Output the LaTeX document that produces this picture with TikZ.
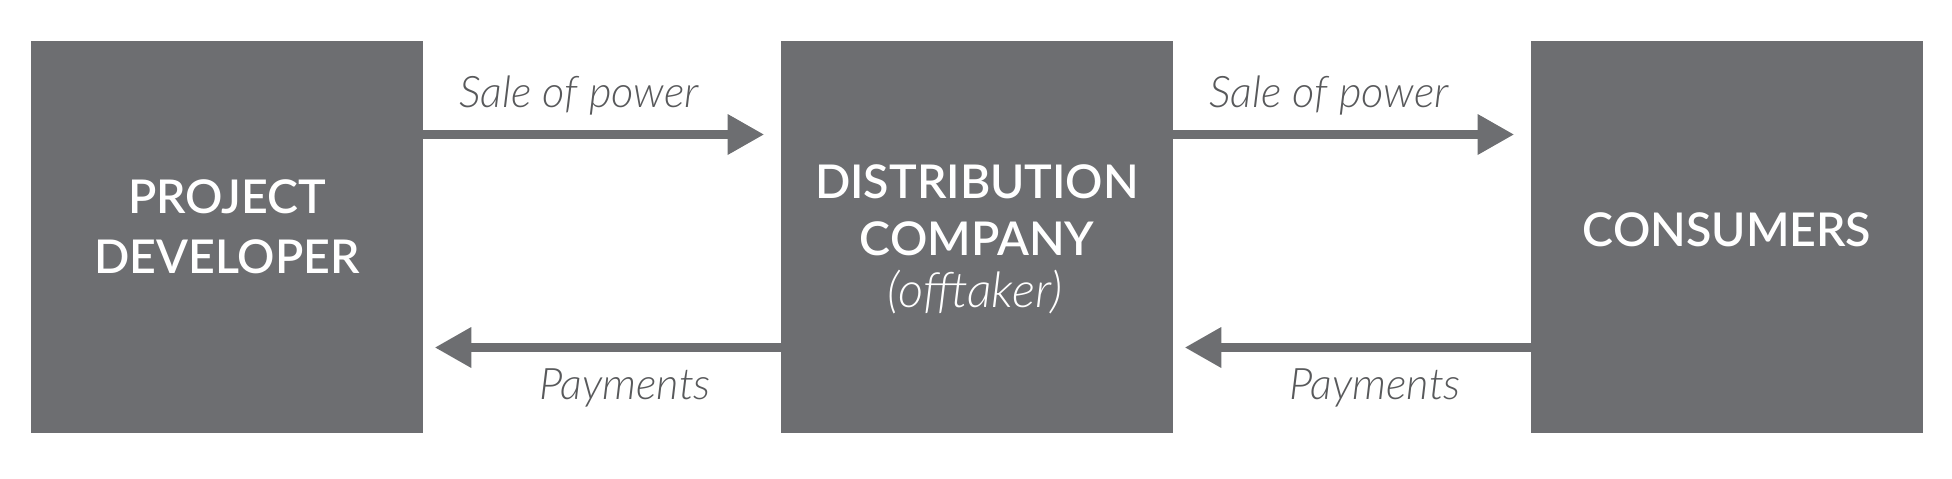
\documentclass[tikz,border=0pt]{standalone}
\usepackage{fontspec}
\setmainfont{Carlito}
\newfontfamily\semifont{Lato Semibold}
\newfontfamily\lightfont{Lato Light Italic}
\usetikzlibrary{arrows.meta}
\definecolor{boxgray}{HTML}{6D6E71}
\definecolor{labelgray}{HTML}{58595B}
\begin{document}
\begin{tikzpicture}[x=1pt,y=-1pt,
  party/.style={fill=boxgray,draw=none,minimum width=392pt,minimum height=392pt,inner sep=0pt,outer sep=0pt},
  boxtext/.style={text=white,font=\semifont\fontsize{46.5}{55}\selectfont,inner sep=0pt,anchor=base},
  subtext/.style={text=white,font=\lightfont\fontsize{49}{55}\selectfont,inner sep=0pt,anchor=base},
  flowlabel/.style={text=labelgray,font=\lightfont\fontsize{43.5}{50}\selectfont,inner sep=0pt,anchor=base},
  flow/.style={draw=boxgray,line width=8.5pt,-{Triangle[length=36pt,width=41pt,line width=0pt]}}]
\useasboundingbox (0,0) rectangle (1952,479);
\node[party] (pd) at (227,237) {};
\node[party] (dc) at (977,237) {};
\node[party] (cs) at (1727,237) {};
\coordinate (toprow) at (0,134.5);
\coordinate (botrow) at (0,347.5);
\node[boxtext] (pd1) at (227,213.3) {PROJECT};
\node[boxtext] (pd2) at (227,273.3) {DEVELOPER};
\node[boxtext] (dc1) at (977,198.3) {DISTRIBUTION};
\node[boxtext] (dc2) at (977,255) {COMPANY};
\node[subtext] (dc3) at (975,307) {(of{}ftaker)};
\node[boxtext] (cs1) at (1727,246.7) {CONSUMERS};
\draw[flow,shorten >=17.4pt] (pd.east |- toprow) -- (dc.west |- toprow);
\draw[flow,shorten >=12.3pt] (dc.west |- botrow) -- (pd.east |- botrow);
\draw[flow,shorten >=17.4pt] (dc.east |- toprow) -- (cs.west |- toprow);
\draw[flow,shorten >=12.3pt] (cs.west |- botrow) -- (dc.east |- botrow);
\node[flowlabel] (l1) at (579,107.7) {Sale of power};
\node[flowlabel] (l2) at (625,399.3) {Payments};
\node[flowlabel] (l3) at (1329,107.7) {Sale of power};
\node[flowlabel] (l4) at (1375,399.3) {Payments};
\end{tikzpicture}
\end{document}
